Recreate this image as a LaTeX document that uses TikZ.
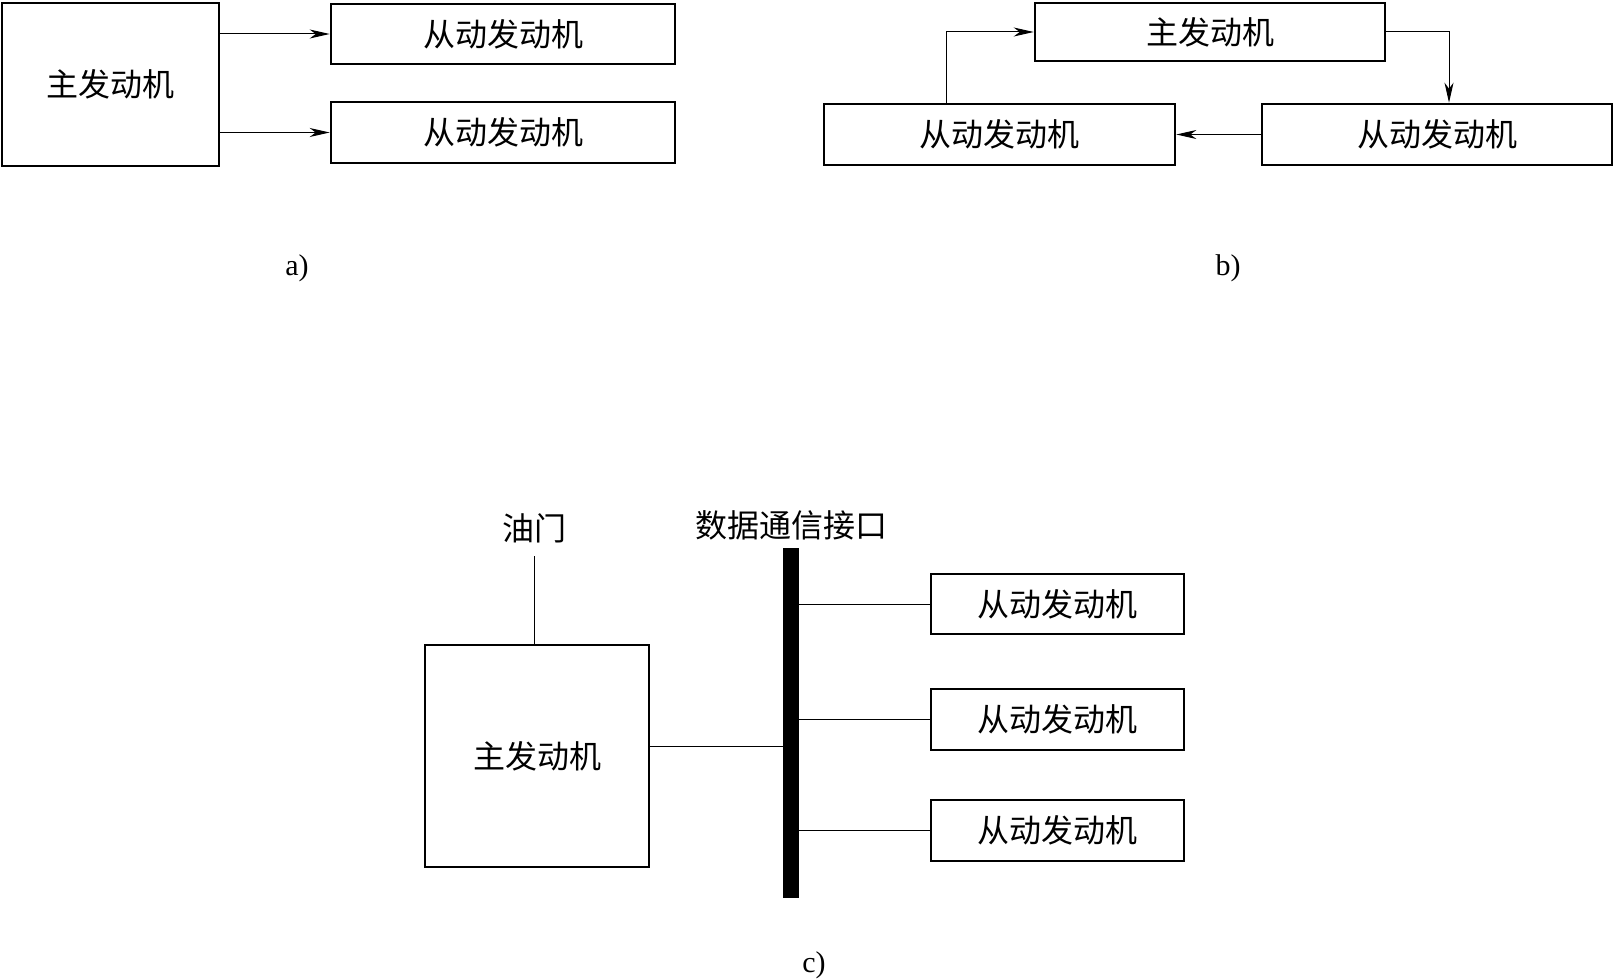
\documentclass[tikz,border=0pt]{standalone}
\usepackage{fontspec}
\setmainfont{Liberation Serif}
\newfontfamily\cjk{Noto Sans CJK SC}
\usetikzlibrary{arrows.meta}
\begin{document}
\begin{tikzpicture}[x=0.5pt,y=-0.5pt,
  box/.style={draw,line width=1.3pt,inner sep=0pt,font=\cjk\fontsize{16pt}{16pt}\selectfont},
  conn/.style={line width=0.5pt},
  arr/.style={conn,-{Stealth[length=10pt,width=4.5pt,inset=3pt]}},
  cjklab/.style={inner sep=0pt,font=\cjk\fontsize{16pt}{16pt}\selectfont},
  lab/.style={inner sep=0pt,font=\fontsize{15pt}{15pt}\selectfont},
  bus/.style={fill=black,inner sep=0pt,minimum width=8pt,minimum height=175pt}]
\useasboundingbox (0,0) rectangle (1615,979);
% ---- a) ----
\node[box,minimum width=108.5pt,minimum height=81.5pt] (am) at (110.5,84.5) {主发动机};
\node[box,minimum width=172pt,minimum height=30pt] (as1) at (503,34) {从动发动机};
\node[box,minimum width=172pt,minimum height=30.5pt] (as2) at (503,132.5) {从动发动机};
\draw[arr] (am.east |- as1.west) -- (as1.west);
\draw[arr] (am.east |- as2.west) -- (as2.west);
\node[lab] (la) at (297,268) {a)};
% ---- b) ----
\node[box,minimum width=175pt,minimum height=29pt] (bm) at (1210,32) {主发动机};
\node[box,minimum width=175.5pt,minimum height=30.5pt] (bl) at (999.5,134.5) {从动发动机};
\node[box,minimum width=175pt,minimum height=30.5pt] (br) at (1437,134.5) {从动发动机};
\coordinate (k1) at (946,0);
\coordinate (k2) at (1449,0);
\draw[arr] (bl.north -| k1) |- (bm.west);
\draw[arr] (bm.east) -| (br.north -| k2);
\draw[arr] (br.west) -- (bl.east);
\node[lab] (lb) at (1228,268) {b)};
% ---- c) ----
\node[box,minimum width=112pt,minimum height=111pt] (cm) at (537,756) {主发动机};
\node[cjklab] (thr) at (534,528) {油门};
\coordinate (t1) at (534,556);
\draw[conn] (t1) -- (t1 |- cm.north);
\node[bus] (bus) at (791,723) {};
\node[cjklab] (busl) at (791,525) {数据通信接口};
\coordinate (h) at (0,746);
\draw[conn] (cm.east |- h) -- (bus.west |- h);
\node[box,minimum width=126.5pt,minimum height=30pt] (cs1) at (1057.5,604) {从动发动机};
\node[box,minimum width=126.5pt,minimum height=30.5pt] (cs2) at (1057.5,719.5) {从动发动机};
\node[box,minimum width=126.5pt,minimum height=30.5pt] (cs3) at (1057.5,830.5) {从动发动机};
\draw[conn] (bus.east |- cs1.west) -- (cs1.west);
\draw[conn] (bus.east |- cs2.west) -- (cs2.west);
\draw[conn] (bus.east |- cs3.west) -- (cs3.west);
\node[lab] (lc) at (814,965) {c)};
\end{tikzpicture}
\end{document}
